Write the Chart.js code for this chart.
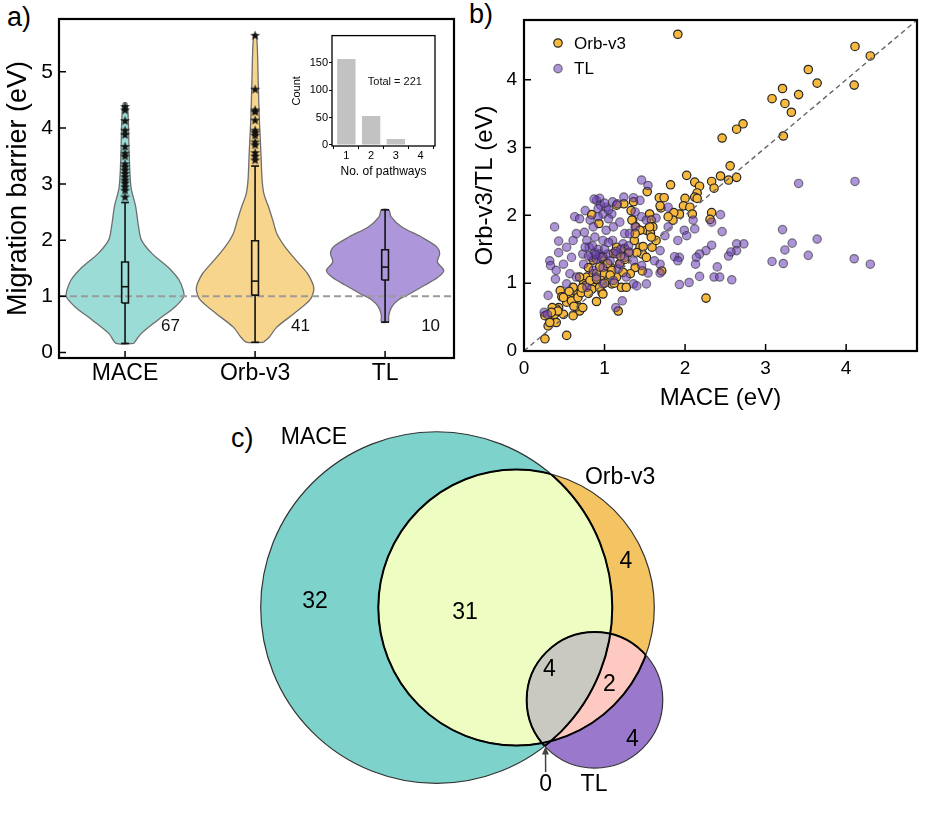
<!DOCTYPE html>
<html>
<head>
<meta charset="utf-8">
<script src="https://cdn.jsdelivr.net/npm/chart.js@4.4.1/dist/chart.umd.min.js"></script>
<style>
  body { margin: 0; background: #fff; width: 925px; height: 824px; position: relative; overflow: hidden; font-family: "Liberation Sans", Arial, sans-serif; }
  canvas { position: absolute; }
  .tag { position: absolute; font-size: 27px; color: #000; line-height: 1; }
</style>
</head>
<body>
<div class="tag" style="left:7px;top:4px">a)</div>
<div class="tag" style="left:469px;top:1px">b)</div>
<div class="tag" style="left:231px;top:425px">c)</div>
<canvas id="violin" width="462" height="400" style="left:0;top:0"></canvas>
<canvas id="inset" width="150" height="160" style="left:290px;top:28px"></canvas>
<canvas id="scatter" width="463" height="420" style="left:462px;top:0"></canvas>
<canvas id="venn" width="470" height="400" style="left:230px;top:415px"></canvas>
<script>
// ---- panel a: violins ----
const models = ['MACE', 'Orb-v3', 'TL'];
const modelCounts = ['67', '41', '10'];
const barrierTicks = [0, 1, 2, 3, 4, 5];

// outline of each violin: barrier level (eV) and relative width (1 = widest)
const maceLevels = [0.16, 0.33, 0.57, 0.81, 0.99, 1.11, 1.29, 1.52, 1.76, 2.0, 2.24, 2.6, 2.95, 3.55, 4.14, 4.44];
const maceDensity = [0.15, 0.27, 0.55, 0.85, 1.0, 0.99, 0.92, 0.73, 0.46, 0.28, 0.23, 0.18, 0.10, 0.07, 0.055, 0.03];
const orbLevels = [0.18, 0.27, 0.45, 0.69, 0.93, 1.11, 1.23, 1.41, 1.64, 1.88, 2.12, 2.36, 2.59, 2.83, 3.07, 3.55, 4.14, 4.74, 5.66];
const orbDensity = [0.14, 0.24, 0.37, 0.66, 0.93, 1.0, 0.98, 0.89, 0.70, 0.51, 0.37, 0.30, 0.23, 0.15, 0.12, 0.10, 0.073, 0.056, 0.025];
const tlLevels = [0.54, 0.66, 0.81, 0.93, 1.05, 1.20, 1.34, 1.46, 1.61, 1.76, 1.88, 2.06, 2.24, 2.42, 2.54];
const tlDensity = [0.063, 0.063, 0.114, 0.22, 0.43, 0.68, 0.90, 1.0, 0.89, 0.93, 0.88, 0.61, 0.28, 0.10, 0.063];

// [lower whisker, Q1, median, Q3, upper whisker]
const maceBox = [0.16, 0.88, 1.17, 1.61, 2.67];
const orbBox = [0.18, 1.02, 1.27, 1.99, 3.32];
const tlBox = [0.54, 1.29, 1.52, 1.83, 2.54];

const maceOutliers = [4.38, 4.32, 4.13, 3.96, 3.88, 3.67, 3.55, 3.50, 3.36, 3.31, 3.25, 3.19, 3.13, 3.07, 3.02, 2.95, 2.89, 2.77];
const orbOutliers = [5.65, 4.69, 4.32, 4.29, 4.14, 3.96, 3.92, 3.87, 3.75, 3.70, 3.56, 3.50, 3.43];

// inset: pathways per material
const pathwayNumbers = [1, 2, 3, 4];
const pathwayCounts = [157, 53, 11, 0];
const countTicks = [0, 50, 100, 150];

// ---- panel b: scatter, [MACE, model] barriers in eV ----
const scatterTicks = [0, 1, 2, 3, 4];
const orbPoints = [
  [1.91,4.67],[4.11,4.49],[4.30,4.35],[3.53,4.15],[3.64,3.95],[4.10,3.92],[3.21,3.87],[3.41,3.78],[3.08,3.72],[3.24,3.65],
  [3.32,3.52],[3.22,3.17],[2.72,3.35],[2.64,3.27],[2.46,3.14],[2.56,2.73],[2.64,2.56],[2.54,2.52],[2.44,2.58],[2.33,2.50],
  [2.36,2.40],[2.02,2.59],[1.82,2.45],[2.12,2.49],[2.18,2.43],[2.15,2.33],[2.12,2.27],[2.15,2.25],[2.00,2.25],[1.98,2.14],
  [2.06,2.12],[2.09,2.02],[1.93,2.02],[1.86,2.04],[2.33,2.04],[2.31,1.94],[2.26,0.78],[1.68,2.26],[1.74,2.26],[1.53,2.35],
  [1.36,2.20],[1.24,2.17],[1.56,2.02],[1.58,1.93],[1.60,1.83],[1.52,1.78],[1.57,1.74],[1.70,2.11],[1.85,1.93],[1.79,1.98],
  [1.33,2.07],[1.35,1.93],[1.39,1.83],[1.44,1.78],[0.84,2.01],[0.93,1.88],[1.15,1.53],[1.25,1.51],[1.37,1.63],[1.44,1.53],
  [1.47,1.43],[1.52,1.38],[1.59,1.53],[1.64,1.63],[1.71,1.18],[1.47,1.18],[1.38,1.23],[1.32,1.14],[1.21,0.94],[1.17,0.59],
  [1.15,1.09],[1.09,0.99],[1.08,1.23],[1.02,1.23],[0.98,1.36],[0.99,1.14],[0.96,1.04],[0.97,0.86],[0.90,0.73],[0.87,0.94],
  [0.78,1.09],[0.86,1.14],[0.80,1.23],[0.74,0.99],[0.67,0.84],[0.61,0.94],[0.57,0.79],[0.65,0.69],[0.69,0.59],[0.61,0.52],
  [0.53,0.72],[0.45,0.89],[0.47,0.80],[0.43,0.64],[0.40,0.62],[0.35,0.64],[0.32,0.54],[0.49,0.54],[0.40,0.42],[0.30,0.37],
  [0.26,0.18],[0.53,0.23],[0.26,0.52],[0.32,0.42],[0.38,0.54],[0.42,0.59],[0.34,0.57],[0.49,0.79],[0.59,0.74],[0.67,0.79],
  [0.71,0.86],[0.65,0.65],[0.73,0.64],[0.76,0.96],[0.82,1.04],[0.84,0.91],[0.94,0.94],[0.98,0.84],[0.90,1.14],[0.94,1.24],
  [1.04,1.29],[1.09,1.19],[1.19,1.29],[1.23,1.16],[1.27,0.94],[1.38,1.73],[1.48,1.54],[1.34,1.93],[1.56,1.83],[1.69,2.14],
  [1.58,1.68],[1.11,1.44],[0.98,1.39],[0.86,1.34],[1.15,2.15],[0.90,1.06],[0.69,1.09],[1.25,1.35],[1.30,1.45],[1.40,1.45],
  [1.20,1.40],[1.05,1.05],[1.12,1.00],[0.56,0.88],[0.62,0.66],[0.80,0.85],[0.72,0.93],[1.00,1.00],[1.07,1.12]
];
const tlPoints = [
  [3.41,2.47],[4.11,2.50],[3.21,1.79],[3.33,1.59],[3.24,1.49],[3.64,1.65],[3.08,1.32],[3.22,1.29],[3.53,1.41],[4.10,1.36],
  [4.30,1.28],[2.73,1.58],[2.64,1.58],[2.64,1.48],[2.54,1.40],[2.57,1.46],[2.46,1.76],[2.44,2.01],[2.33,1.90],[2.33,1.56],
  [2.26,1.48],[2.18,1.43],[2.14,1.38],[2.13,1.28],[2.18,1.10],[2.40,1.24],[2.36,1.09],[2.43,1.09],[2.58,1.05],[2.05,1.01],
  [1.93,0.98],[1.93,1.38],[1.87,1.39],[1.91,1.33],[2.10,1.93],[2.12,1.80],[1.99,1.78],[2.02,1.70],[1.91,1.63],[1.75,1.70],
  [1.79,1.83],[1.46,2.52],[1.54,2.44],[1.36,2.26],[1.24,2.27],[1.38,2.05],[1.46,1.98],[1.52,1.93],[1.38,1.83],[1.17,1.21],
  [1.22,0.74],[1.14,0.64],[1.36,0.99],[1.40,0.96],[1.52,0.99],[1.54,1.15],[1.69,1.15],[1.62,1.33],[1.69,1.28],[1.69,1.48],
  [0.38,1.83],[0.43,1.62],[0.43,1.45],[0.32,1.33],[0.33,1.26],[0.39,1.06],[0.30,0.82],[0.25,0.57],[0.29,0.54],[0.53,1.53],
  [0.61,1.63],[0.63,1.98],[0.69,1.95],[0.76,2.07],[0.82,1.93],[0.90,2.22],[0.94,2.25],[1.02,2.12],[1.10,2.20],[1.16,2.17],
  [1.09,2.02],[0.98,2.02],[0.92,1.98],[0.86,1.83],[0.75,1.75],[0.65,1.73],[0.78,1.63],[0.88,1.68],[1.02,1.78],[1.11,1.83],
  [1.19,1.90],[1.25,1.73],[1.23,1.58],[1.10,1.63],[0.98,1.63],[0.81,1.53],[0.73,1.43],[0.59,1.38],[0.49,1.28],[0.40,1.19],
  [0.57,1.14],[0.65,1.09],[0.53,0.99],[0.74,1.28],[0.84,1.38],[0.94,1.43],[1.04,1.43],[1.15,1.43],[1.25,1.38],[1.31,1.46],
  [1.36,1.33],[1.19,1.28],[1.07,1.33],[0.98,1.23],[0.86,1.19],[0.90,1.09],[0.98,0.99],[1.11,1.04],[1.27,1.09],[0.78,0.94],
  [0.76,1.53],[1.46,1.26],[1.64,1.96],[1.79,2.12],[1.44,2.22],[1.31,1.73],[0.88,1.45],[0.92,1.50],[0.95,2.15],[1.00,2.18],
  [1.05,1.95],[0.85,1.55],[1.00,1.50],[0.90,1.35],[1.20,1.50],[1.30,1.55],[0.87,2.24],[0.92,2.10],[1.05,2.08],[0.96,1.38],
  [0.89,1.42],[1.14,1.47],[0.80,1.40],[1.05,1.60]
];

// ---- panel c: venn (MACE, Orb-v3, TL), unit = MACE radius ----
const vennNames = ['MACE', 'Orb-v3', 'TL'];
const vennCx = [0, 0.454, 0.900];
const vennCy = [0, 0, -0.526];
const vennR = [1, 0.785, 0.387];
const vennNameX = [-0.697, 1.044, 0.896];
const vennNameY = [0.964, 0.737, -1.010];
const vennRegions = [[0], [1], [2], [0, 1], [1, 2], [0, 2], [0, 1, 2]];
const vennCounts = ['32', '4', '4', '31', '2', '0', '4'];
const vennCountX = [-0.691, 1.078, 1.114, 0.162, 0.983, 0.621, 0.642];
const vennCountY = [0.033, 0.261, -0.750, -0.031, -0.441, -1.010, -0.356];
const vennArrowTip = [null, null, null, null, null, [0.620, -0.791], null];

Chart.defaults.font.family = '"Liberation Sans", Arial, sans-serif';
Chart.defaults.color = '#000';
Chart.defaults.animation = false;

const FONT = '"Liberation Sans", Arial, sans-serif';

// black box round the plot area
const framePlugin = {
  id: 'frame',
  afterDraw(chart, args, opts) {
    const { ctx, chartArea: a } = chart;
    ctx.save();
    ctx.strokeStyle = '#000';
    ctx.lineWidth = opts.width || 2;
    ctx.strokeRect(a.left, a.top, a.right - a.left, a.bottom - a.top);
    ctx.restore();
  }
};

// tick marks pointing into the plot
const inTicksPlugin = {
  id: 'inTicks',
  afterDraw(chart, args, opts) {
    const { ctx, chartArea: a, scales } = chart;
    ctx.save();
    ctx.strokeStyle = '#000';
    ctx.lineWidth = 1.5;
    ctx.beginPath();
    scales.x.ticks.forEach(t => {
      const px = scales.x.getPixelForValue(t.value);
      ctx.moveTo(px, a.bottom);
      ctx.lineTo(px, a.bottom - opts.len);
    });
    scales.y.ticks.forEach(t => {
      const py = scales.y.getPixelForValue(t.value);
      ctx.moveTo(a.left, py);
      ctx.lineTo(a.left + opts.len, py);
    });
    ctx.stroke();
    ctx.restore();
  }
};

// ---------- panel a ----------
const violinHalf = 0.4515;
const boxHalf = 0.026;
const capHalf = 0.03;
const violinX = { min: -0.508, max: 2.53 };

function violinOutline(c, levels, density) {
  const right = levels.map((y, i) => ({ x: c + density[i] * violinHalf, y }));
  const left = levels.map((y, i) => ({ x: c - density[i] * violinHalf, y })).reverse();
  return right.concat(left, [right[0]]);
}

const starImg = document.createElement('canvas');
starImg.width = 11; starImg.height = 11;
(function () {
  const s = starImg.getContext('2d');
  s.fillStyle = '#111';
  s.beginPath();
  for (let i = 0; i < 10; i++) {
    const r = i % 2 ? 2.1 : 5.2;
    const ang = -Math.PI / 2 + i * Math.PI / 5;
    s.lineTo(5.5 + r * Math.cos(ang), 5.9 + r * Math.sin(ang));
  }
  s.closePath();
  s.fill();
})();

const violinFill = ['#9bddd6', '#f8d58c', '#ad97da'];
const profiles = [[maceLevels, maceDensity], [orbLevels, orbDensity], [tlLevels, tlDensity]];
const boxes = [maceBox, orbBox, tlBox];

const violinSets = [];
profiles.forEach((p, i) => {
  violinSets.push({
    data: violinOutline(i, p[0], p[1]),
    borderColor: '#6e6e6e', borderWidth: 1.3, backgroundColor: violinFill[i],
    fill: 'shape', tension: 0.3, order: 10
  });
});
violinSets.push({
  data: [{ x: violinX.min, y: 1 }, { x: violinX.max, y: 1 }],
  borderColor: '#9a9a9a', borderWidth: 2, borderDash: [7, 4], fill: false, order: 8
});
boxes.forEach((b, i) => {
  const line = { borderColor: '#111', borderWidth: 1.6, fill: false, tension: 0, order: 5 };
  violinSets.push(Object.assign({ data: [{ x: i, y: b[0] }, { x: i, y: b[1] }] }, line));
  violinSets.push(Object.assign({ data: [{ x: i, y: b[3] }, { x: i, y: b[4] }] }, line));
  violinSets.push(Object.assign({ data: [{ x: i - capHalf, y: b[0] }, { x: i + capHalf, y: b[0] }] }, line));
  violinSets.push(Object.assign({ data: [{ x: i - capHalf, y: b[4] }, { x: i + capHalf, y: b[4] }] }, line));
  violinSets.push(Object.assign({ data: [
    { x: i - boxHalf, y: b[1] }, { x: i + boxHalf, y: b[1] }, { x: i + boxHalf, y: b[3] },
    { x: i - boxHalf, y: b[3] }, { x: i - boxHalf, y: b[1] }] }, line));
  violinSets.push(Object.assign({ data: [{ x: i - boxHalf, y: b[2] }, { x: i + boxHalf, y: b[2] }] }, line));
});
[maceOutliers, orbOutliers].forEach((o, i) => {
  violinSets.push({
    data: o.map(v => ({ x: i, y: v })), showLine: false,
    pointStyle: starImg, pointRadius: 5, order: 1
  });
});

const countLabels = {
  id: 'countLabels',
  afterDatasetsDraw(chart) {
    const { ctx, scales: { x, y } } = chart;
    ctx.save();
    ctx.font = '17px ' + FONT;
    ctx.fillStyle = '#111';
    ctx.textAlign = 'center';
    ctx.textBaseline = 'middle';
    modelCounts.forEach((t, i) => ctx.fillText(t, x.getPixelForValue(i + 0.35), y.getPixelForValue(0.47)));
    ctx.restore();
  }
};

new Chart(document.getElementById('violin'), {
  type: 'line',
  data: { datasets: violinSets },
  options: {
    responsive: false,
    layout: { padding: { left: 0, top: 19, right: 8, bottom: 0 } },
    elements: { point: { radius: 0, hoverRadius: 0 } },
    plugins: { legend: { display: false }, tooltip: { enabled: false }, inTicks: { len: 7 }, frame: { width: 2.2 } },
    scales: {
      x: {
        type: 'linear', min: violinX.min, max: violinX.max,
        grid: { display: false, drawTicks: false }, border: { display: false },
        afterBuildTicks: s => { s.ticks = models.map((m, i) => ({ value: i })); },
        afterFit: s => { s.height = 42; },
        ticks: { callback: v => models[v], font: { size: 23 }, padding: 2, maxRotation: 0, autoSkip: false }
      },
      y: {
        min: -0.10, max: 5.94,
        grid: { display: false, drawTicks: false }, border: { display: false },
        afterBuildTicks: s => { s.ticks = barrierTicks.map(v => ({ value: v })); },
        afterFit: s => { s.width = 59; },
        ticks: { font: { size: 21 }, padding: 6 },
        title: { display: true, text: 'Migration barrier (eV)', font: { size: 27 }, padding: { top: 2, bottom: 0 } }
      }
    }
  },
  plugins: [framePlugin, inTicksPlugin, countLabels]
});

// ---------- inset ----------
const totalLabel = {
  id: 'totalLabel',
  afterDatasetsDraw(chart) {
    const { ctx, scales: { x, y } } = chart;
    const total = pathwayCounts.reduce((a, b) => a + b, 0);
    ctx.save();
    ctx.font = '11px ' + FONT;
    ctx.fillStyle = '#111';
    ctx.textAlign = 'center';
    ctx.textBaseline = 'middle';
    ctx.fillText('Total = ' + total, x.getPixelForValue(2.96), y.getPixelForValue(115));
    ctx.restore();
  }
};

new Chart(document.getElementById('inset'), {
  type: 'bar',
  data: {
    datasets: [{
      data: pathwayNumbers.map((n, i) => ({ x: n, y: pathwayCounts[i] })),
      backgroundColor: '#c2c2c2', barPercentage: 0.74, categoryPercentage: 1
    }]
  },
  options: {
    responsive: false,
    layout: { padding: { left: 0, top: 7, right: 5, bottom: 0 } },
    plugins: { legend: { display: false }, tooltip: { enabled: false }, frame: { width: 1.3 } },
    scales: {
      x: {
        type: 'linear', min: 0.42, max: 4.58, offset: false,
        grid: { drawOnChartArea: false, tickLength: 3, color: '#000' }, border: { display: false },
        afterBuildTicks: s => { s.ticks = pathwayNumbers.map(v => ({ value: v })); },
        afterFit: s => { s.height = 42; },
        ticks: { font: { size: 11 }, padding: 0 },
        title: { display: true, text: 'No. of pathways', font: { size: 12 }, padding: { top: 0, bottom: 9 } }
      },
      y: {
        min: -2, max: 200,
        grid: { drawOnChartArea: false, tickLength: 3, color: '#000' }, border: { display: false },
        afterBuildTicks: s => { s.ticks = countTicks.map(v => ({ value: v })); },
        afterFit: s => { s.width = 42; },
        ticks: { font: { size: 11 }, padding: 1 },
        title: { display: true, text: 'Count', font: { size: 11 }, padding: { top: 0, bottom: 0 } }
      }
    }
  },
  plugins: [framePlugin, totalLabel]
});

// ---------- panel b ----------
const orbFill = '#f6b93e';
const tlFill = 'rgba(105, 60, 185, 0.55)';
const tlEdge = 'rgba(45, 45, 45, 0.6)';
const scatterMax = 4.88;

const insideLegend = {
  id: 'insideLegend',
  afterDatasetsDraw(chart) {
    const { ctx, chartArea: a } = chart;
    ctx.save();
    ctx.font = '17px ' + FONT;
    ctx.textBaseline = 'middle';
    chart.data.datasets.filter(d => d.label).forEach((d, i) => {
      const cy = a.top + 23 + i * 25.6;
      ctx.beginPath();
      ctx.arc(a.left + 34, cy, 4.2, 0, 2 * Math.PI);
      ctx.fillStyle = d.backgroundColor;
      ctx.fill();
      ctx.lineWidth = d.borderWidth;
      ctx.strokeStyle = d.borderColor;
      ctx.stroke();
      ctx.fillStyle = '#000';
      ctx.fillText(d.label, a.left + 50, cy + 1);
    });
    ctx.restore();
  }
};

new Chart(document.getElementById('scatter'), {
  type: 'scatter',
  data: {
    datasets: [
      { data: [{ x: 0, y: 0 }, { x: scatterMax, y: scatterMax }], showLine: true, borderColor: '#666',
        borderWidth: 1.4, borderDash: [5, 3.5], pointRadius: 0, order: 0 },
      { label: 'Orb-v3', data: orbPoints.map(p => ({ x: p[0], y: p[1] })), backgroundColor: orbFill,
        borderColor: '#262626', borderWidth: 1.2, pointRadius: 4.2, order: 2 },
      { label: 'TL', data: tlPoints.map(p => ({ x: p[0], y: p[1] })), backgroundColor: tlFill,
        borderColor: tlEdge, borderWidth: 1.2, pointRadius: 4.2, order: 1 }
    ]
  },
  options: {
    responsive: false,
    layout: { padding: { left: 0, top: 20, right: 8, bottom: 0 } },
    plugins: { legend: { display: false }, tooltip: { enabled: false }, inTicks: { len: 7 }, frame: { width: 2.2 } },
    scales: {
      x: {
        min: 0, max: scatterMax,
        grid: { display: false, drawTicks: false }, border: { display: false },
        afterBuildTicks: s => { s.ticks = scatterTicks.map(v => ({ value: v })); },
        afterFit: s => { s.height = 69; },
        ticks: { font: { size: 19 }, padding: 6 },
        title: { display: true, text: 'MACE (eV)', font: { size: 24 }, padding: { top: 0, bottom: 7 } }
      },
      y: {
        min: 0, max: scatterMax,
        grid: { display: false, drawTicks: false }, border: { display: false },
        afterBuildTicks: s => { s.ticks = scatterTicks.map(v => ({ value: v })); },
        afterFit: s => { s.width = 62; },
        ticks: { font: { size: 19 }, padding: 7 },
        title: { display: true, text: 'Orb-v3/TL (eV)', font: { size: 24 }, padding: { top: 9, bottom: 0 } }
      }
    }
  },
  plugins: [framePlugin, inTicksPlugin, insideLegend]
});

// ---------- panel c ----------
const vennColors = ['#7dd3cb', '#f5c462', '#9a79cc', '#eefdc2', '#fdc9c1', '#a9b4d8', '#c9c9c1'];

const vennPlugin = {
  id: 'vennDraw',
  afterDatasetsDraw(chart) {
    const { ctx, scales: { x, y }, width, height } = chart;
    const unit = x.getPixelForValue(1) - x.getPixelForValue(0);
    const circles = vennCx.map((cx, i) => ({ px: x.getPixelForValue(cx), py: y.getPixelForValue(vennCy[i]), r: vennR[i] * unit }));
    const circlePath = c => { ctx.beginPath(); ctx.arc(c.px, c.py, c.r, 0, 2 * Math.PI); };

    vennRegions.forEach((inside, k) => {
      ctx.save();
      inside.forEach(i => { circlePath(circles[i]); ctx.clip(); });
      circles.forEach((c, i) => {
        if (inside.includes(i)) return;
        ctx.beginPath();
        ctx.rect(0, 0, width, height);
        ctx.moveTo(c.px + c.r, c.py);
        ctx.arc(c.px, c.py, c.r, 0, 2 * Math.PI);
        ctx.clip('evenodd');
      });
      ctx.fillStyle = vennColors[k];
      ctx.fillRect(0, 0, width, height);
      ctx.restore();
    });

    ctx.save();
    circles.forEach(c => { circlePath(c); ctx.lineWidth = 1.2; ctx.strokeStyle = '#333'; ctx.stroke(); });
    circles.forEach((c, i) => {
      ctx.save();
      ctx.beginPath();
      circles.forEach((o, j) => {
        if (j === i) return;
        ctx.moveTo(o.px + o.r, o.py);
        ctx.arc(o.px, o.py, o.r, 0, 2 * Math.PI);
      });
      ctx.clip();
      circlePath(c);
      ctx.lineWidth = 2;
      ctx.strokeStyle = '#000';
      ctx.stroke();
      ctx.restore();
    });

    ctx.font = '23px ' + FONT;
    ctx.fillStyle = '#000';
    ctx.textAlign = 'center';
    ctx.textBaseline = 'middle';
    vennNames.forEach((n, i) => ctx.fillText(n, x.getPixelForValue(vennNameX[i]), y.getPixelForValue(vennNameY[i])));
    vennCounts.forEach((t, k) => {
      const lx = x.getPixelForValue(vennCountX[k]);
      const ly = y.getPixelForValue(vennCountY[k]);
      ctx.fillStyle = '#000';
      ctx.fillText(t, lx, ly);
      const tip = vennArrowTip[k];
      if (tip) {
        const tx = x.getPixelForValue(tip[0]);
        const ty = y.getPixelForValue(tip[1]);
        ctx.strokeStyle = '#444';
        ctx.fillStyle = '#444';
        ctx.lineWidth = 1.5;
        ctx.beginPath();
        ctx.moveTo(lx, ly - 13);
        ctx.lineTo(tx, ty + 4);
        ctx.stroke();
        ctx.beginPath();
        ctx.moveTo(tx, ty);
        ctx.lineTo(tx - 3.5, ty + 8);
        ctx.lineTo(tx + 3.5, ty + 8);
        ctx.closePath();
        ctx.fill();
      }
    });
    ctx.restore();
  }
};

new Chart(document.getElementById('venn'), {
  type: 'scatter',
  data: { datasets: [{ data: vennCx.map((cx, i) => ({ x: cx, y: vennCy[i] })), pointRadius: 0 }] },
  options: {
    responsive: false,
    layout: { padding: 0 },
    plugins: { legend: { display: false }, tooltip: { enabled: false } },
    scales: {
      x: { display: false, min: -1.1746, max: 1.4989 },
      y: { display: false, min: -1.180, max: 1.095 }
    }
  },
  plugins: [vennPlugin]
});
</script>
</body>
</html>
